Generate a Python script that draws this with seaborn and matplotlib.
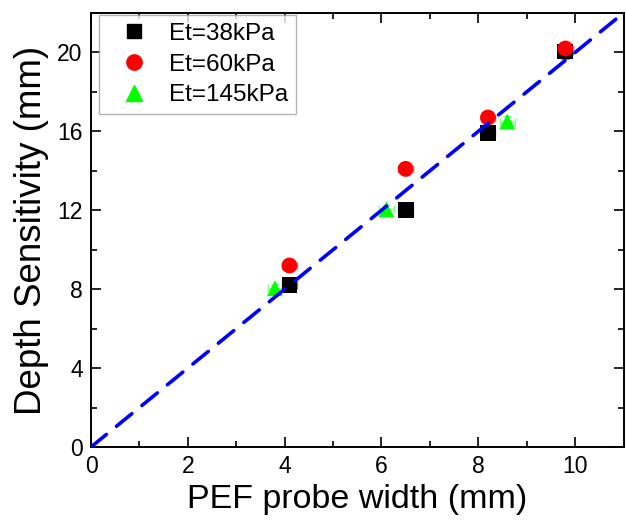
import numpy as np
import pandas as pd
import matplotlib
matplotlib.use("Agg")
import matplotlib.pyplot as plt
import seaborn as sns
from matplotlib.lines import Line2D

# Data
series_names = ["Et=38kPa", "Et=60kPa", "Et=145kPa"]
x_38 = [4.1, 6.5, 8.2, 9.8]
y_38 = [8.2, 12.0, 15.9, 20.05]
x_60 = [4.1, 6.5, 8.2, 9.8]
y_60 = [9.2, 14.1, 16.7, 20.2]
x_145 = [3.8, 6.1, 8.6]
y_145 = [8.05, 12.05, 16.5]
xerr_38 = [0.15, 0.15, 0.15, 0.15]
yerr_38 = [0.2, 0.3, 0.3, 0.4]
xerr_60 = [0.15, 0.15, 0.15, 0.15]
yerr_60 = [0.2, 0.3, 0.3, 0.3]
xerr_145 = [0.15, 0.15, 0.15]
yerr_145 = [0.2, 0.2, 0.3]
fit_x = [0, 11]
fit_y = [0, 22]
x_ticks = [0, 2, 4, 6, 8, 10]
y_ticks = [0, 4, 8, 12, 16, 20]

df = pd.DataFrame({
    "x": x_38 + x_60 + x_145,
    "y": y_38 + y_60 + y_145,
    "xerr": xerr_38 + xerr_60 + xerr_145,
    "yerr": yerr_38 + yerr_60 + yerr_145,
    "series": [series_names[0]] * len(x_38) + [series_names[1]] * len(x_60) + [series_names[2]] * len(x_145),
})

sns.set_style("ticks")
plt.rcParams["font.family"] = ["Liberation Sans", "DejaVu Sans"]
plt.rcParams["text.color"] = "black"
plt.rcParams["axes.labelcolor"] = "black"
plt.rcParams["xtick.color"] = "black"
plt.rcParams["ytick.color"] = "black"

fig = plt.figure(figsize=(6.26, 5.22), dpi=100)
ax = fig.add_axes([91 / 626, 1 - 447 / 522, (623.5 - 91) / 626, (447 - 13) / 522])

colors = {"Et=38kPa": "black", "Et=60kPa": "red", "Et=145kPa": "#00ff00"}
errcolors = {"Et=38kPa": "#808080", "Et=60kPa": "#ff8080", "Et=145kPa": "#80ff80"}
markers = {"Et=38kPa": "s", "Et=60kPa": "o", "Et=145kPa": "^"}

for name in series_names:
    sub = df[df["series"] == name]
    ax.errorbar(sub["x"], sub["y"], xerr=sub["xerr"], yerr=sub["yerr"], fmt="none",
                ecolor=errcolors[name], elinewidth=1, capsize=3, capthick=1, zorder=2)

sns.scatterplot(data=df, x="x", y="y", hue="series", style="series",
                palette=colors, markers=markers, hue_order=series_names,
                style_order=series_names, s=130, edgecolor="none", ax=ax, zorder=3, legend=False)

sns.lineplot(x=fit_x, y=fit_y, ax=ax, color="#0000ff", lw=2.6, zorder=4,
             linestyle=(0, (5.5, 3.6)))
ax.lines[-1].set_dash_capstyle("round")

# Legend
handles = [Line2D([], [], linestyle="none", marker=markers[n], color=colors[n],
                  markersize=11 if n != "Et=38kPa" else 10) for n in series_names]
leg = ax.legend(handles, series_names, loc="upper left", bbox_to_anchor=(0.015, 0.995),
                frameon=True, fancybox=False, edgecolor="#a0a0a0", fontsize=17.5,
                handletextpad=0.35, borderpad=0.32, labelspacing=0.36, handlelength=2.2,
                borderaxespad=0)
leg.get_frame().set_linewidth(1.0)

ax.set_xlim(0, 11)
ax.set_ylim(0, 22)
ax.set_xticks(x_ticks)
ax.set_yticks(y_ticks)
ax.set_xticks(np.arange(0, 11.01, 1), minor=True)
ax.set_yticks(np.arange(0, 22.01, 2), minor=True)
ax.tick_params(which="both", direction="in", top=True, right=True, color="black",
               width=1.2)
ax.tick_params(which="major", length=7, labelsize=16.5, pad=6)
ax.tick_params(which="minor", length=4)
for s in ax.spines.values():
    s.set_visible(True)
    s.set_color("black")
    s.set_linewidth(1.4)

ax.set_xlabel("PEF probe width (mm)", fontsize=24.5, labelpad=4)
ax.set_ylabel("Depth Sensitivity (mm)", fontsize=26.5, labelpad=6)

fig.savefig("out.png", dpi=100)
